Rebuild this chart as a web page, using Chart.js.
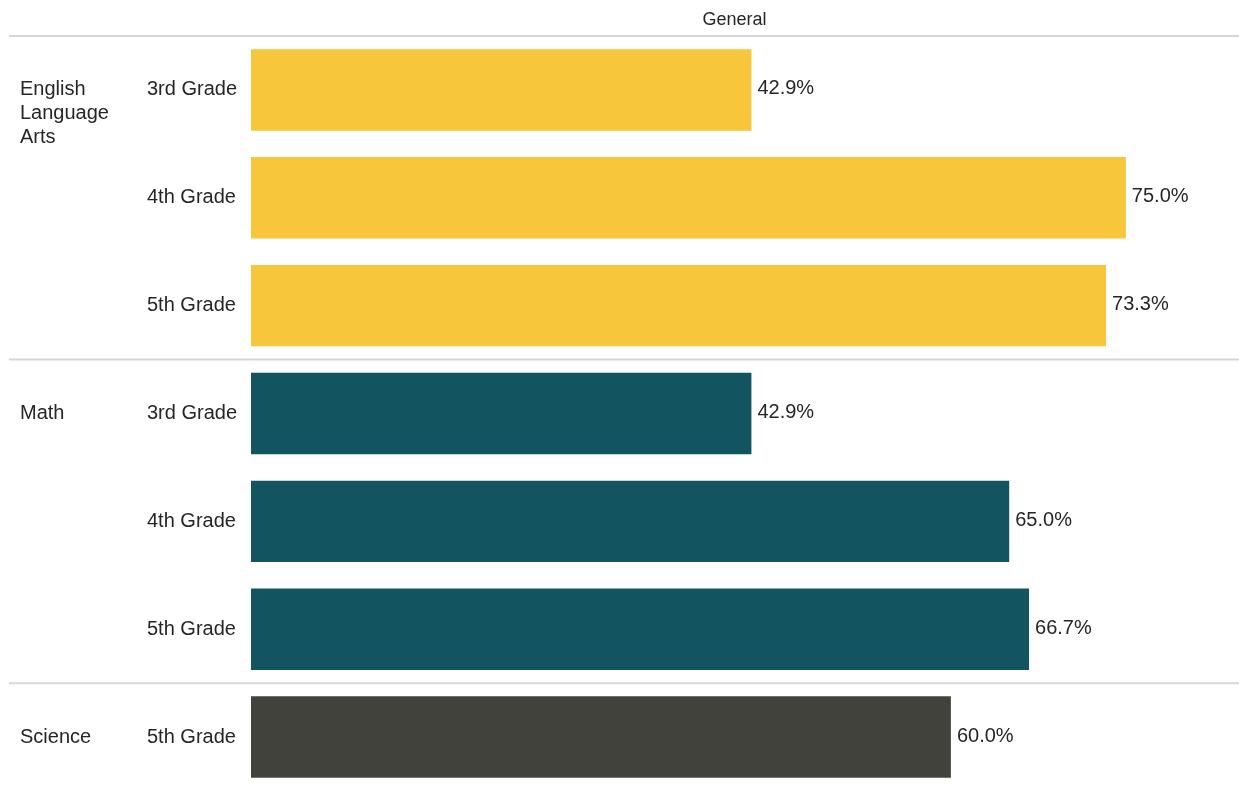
<!DOCTYPE html>
<html>
<head>
<meta charset="utf-8">
<title>General</title>
<script src="https://cdn.jsdelivr.net/npm/chart.js@4/dist/chart.umd.min.js"></script>
<style>
  html, body { margin: 0; padding: 0; background: #ffffff; overflow: hidden; }
  #wrap { width: 1239px; height: 787px; overflow: hidden; }
  canvas { display: block; }
</style>
</head>
<body>
<div id="wrap"><canvas id="chart" width="1239" height="791"></canvas></div>
<script>
// Subjects (group labels, split into lines) and their bar colours
const subjectLines = [['English', 'Language', 'Arts'], ['Math'], ['Science']];
const subjectColors = ['#F8C63A', '#12545F', '#42423D'];

// One row per subject/grade combination
const gradeLabels = ['3rd Grade', '4th Grade', '5th Grade', '3rd Grade', '4th Grade', '5th Grade', '5th Grade'];
const rowSubject = [0, 0, 0, 1, 1, 1, 2];
const pctValues = [42.9, 75.0, 73.3, 42.9, 65.0, 66.7, 60.0];

const panelTitle = 'General';
const FONT = '"Liberation Sans", Arial, sans-serif';
const TEXT = '#262626';
const RULE = '#d6d6d6';

// Horizontal rules above each subject group
const groupRules = {
  id: 'groupRules',
  beforeDatasetsDraw(chart) {
    const { ctx, chartArea, scales: { y } } = chart;
    const ys = [chartArea.top];
    for (let i = 1; i < rowSubject.length; i++) {
      if (rowSubject[i] !== rowSubject[i - 1]) {
        ys.push((y.getPixelForValue(i - 1) + y.getPixelForValue(i)) / 2);
      }
    }
    ctx.save();
    ctx.strokeStyle = RULE;
    ctx.lineWidth = 2;
    ys.forEach(py => {
      ctx.beginPath();
      ctx.moveTo(9, py);
      ctx.lineTo(chart.width, py);
      ctx.stroke();
    });
    ctx.restore();
  }
};

// Panel header above the bars (the header cell begins a little left of the bars)
const panelHeader = {
  id: 'panelHeader',
  afterDraw(chart) {
    const { ctx, chartArea } = chart;
    ctx.save();
    ctx.font = '18px ' + FONT;
    ctx.fillStyle = TEXT;
    ctx.textAlign = 'center';
    ctx.textBaseline = 'middle';
    ctx.fillText(panelTitle, (chartArea.left - 21 + chartArea.right) / 2, 20);
    ctx.restore();
  }
};

// Subject names beside the first row of each group
const subjectNames = {
  id: 'subjectNames',
  afterDraw(chart) {
    const { ctx, scales: { y } } = chart;
    ctx.save();
    ctx.font = '20px ' + FONT;
    ctx.fillStyle = TEXT;
    ctx.textAlign = 'left';
    ctx.textBaseline = 'middle';
    subjectLines.forEach((lines, s) => {
      const first = rowSubject.indexOf(s);
      const cy = y.getPixelForValue(first);
      lines.forEach((line, k) => ctx.fillText(line, 20, cy + k * 24));
    });
    ctx.restore();
  }
};

// Percentage labels at the end of each bar
const valueLabels = {
  id: 'valueLabels',
  afterDatasetsDraw(chart) {
    const { ctx } = chart;
    const meta = chart.getDatasetMeta(0);
    ctx.save();
    ctx.font = '20px ' + FONT;
    ctx.fillStyle = TEXT;
    ctx.textAlign = 'left';
    ctx.textBaseline = 'middle';
    meta.data.forEach((bar, i) => {
      ctx.fillText(pctValues[i].toFixed(1) + '%', bar.x + 6, bar.y - 1);
    });
    ctx.restore();
  }
};

new Chart(document.getElementById('chart'), {
  type: 'bar',
  data: {
    labels: gradeLabels,
    datasets: [{
      data: pctValues,
      backgroundColor: rowSubject.map(s => subjectColors[s]),
      borderWidth: 0,
      categoryPercentage: 1,
      barPercentage: 0.755
    }]
  },
  options: {
    indexAxis: 'y',
    responsive: false,
    animation: false,
    devicePixelRatio: 1,
    layout: { padding: { left: 147, right: 0, top: 0, bottom: 0 } },
    plugins: {
      legend: { display: false },
      tooltip: { enabled: false }
    },
    scales: {
      x: {
        position: 'top',
        min: 0,
        max: 84.7,
        grid: { display: false },
        border: { display: false },
        ticks: { display: false },
        afterFit(scale) {
          scale.height = 36;
          scale.paddingLeft = 0;
          scale.paddingRight = 0;
        }
      },
      y: {
        grid: { display: false, drawTicks: false },
        border: { display: false },
        ticks: {
          crossAlign: 'far',
          padding: 0,
          color: TEXT,
          font: { family: FONT, size: 20 }
        },
        afterFit(scale) {
          scale.width = 104;
          scale.paddingTop = 0;
          scale.paddingBottom = 0;
        }
      }
    }
  },
  plugins: [groupRules, panelHeader, subjectNames, valueLabels]
});
</script>
</body>
</html>
